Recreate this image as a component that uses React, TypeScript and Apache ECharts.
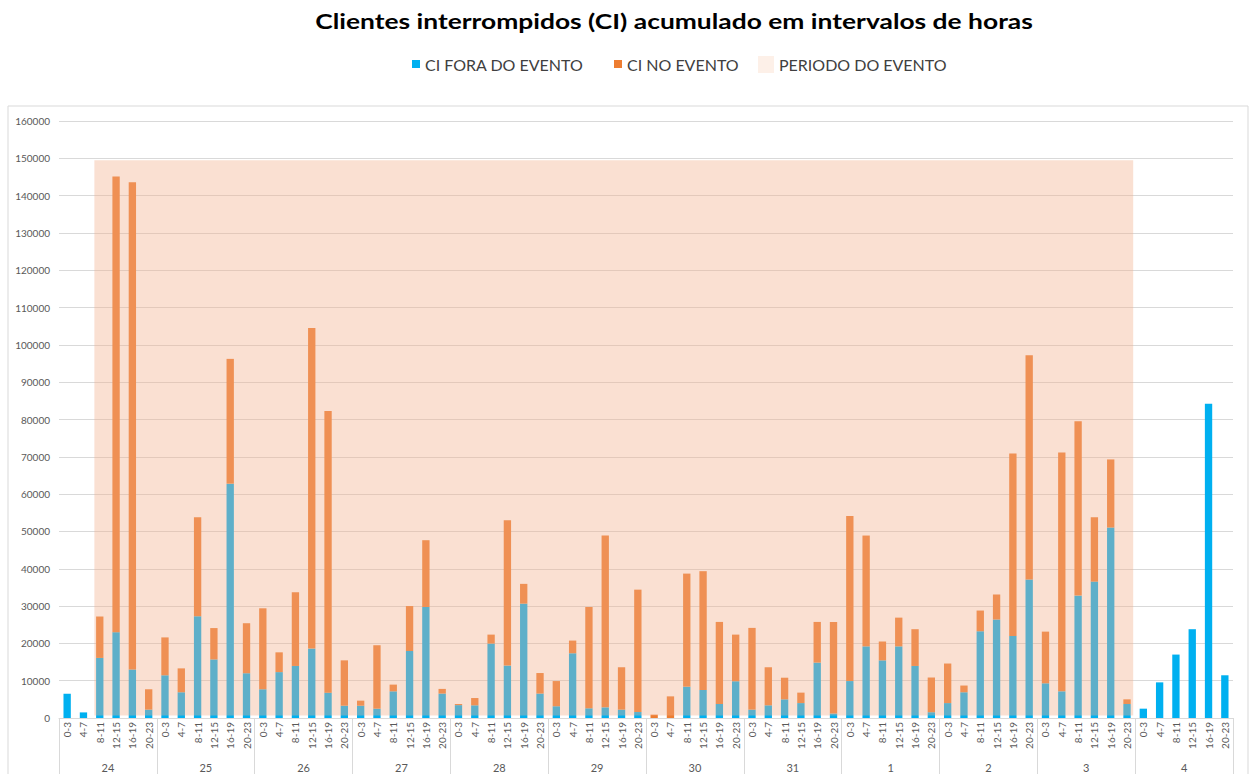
import React, { useEffect, useRef } from 'react';
import * as echarts from 'echarts';

const days = ['24', '25', '26', '27', '28', '29', '30', '31', '1', '2', '3', '4'];
const hours = ['0-3', '4-7', '8-11', '12-15', '16-19', '20-23'];

// CI FORA DO EVENTO (blue), per day x hour interval
const blueValues = [
  6500, 1500, 16100, 23000, 13000, 2250,
  11450, 6900, 27300, 15700, 62800, 12000,
  7700, 12300, 13950, 18600, 6800, 3300,
  3300, 2500, 7150, 17950, 29750, 6550,
  3450, 3400, 19950, 14050, 30650, 6550,
  3150, 17350, 2600, 2850, 2250, 1600,
  0, 0, 8400, 7500, 3750, 9850,
  2250, 3400, 5000, 4000, 14850, 1200,
  9900, 19200, 15450, 19200, 13950, 1550,
  4000, 6900, 23250, 26400, 22000, 37100,
  9300, 7150, 32800, 36550, 51050, 3750,
  2500, 9550, 17000, 23800, 84200, 11450,
];

// CI NO EVENTO (orange), stacked on top of blue
const orangeValues = [
  null, null, 11100, 122100, 130600, 5450,
  10150, 6400, 26500, 8400, 33450, 13400,
  21700, 5300, 19750, 85950, 75500, 12150,
  1350, 17000, 1800, 12050, 17900, 1250,
  300, 1950, 2400, 38950, 5300, 5500,
  6750, 3400, 27150, 46050, 11350, 32800,
  900, 5800, 30300, 31850, 22000, 12500,
  21900, 10200, 5800, 2800, 10900, 24550,
  44250, 29700, 5050, 7700, 9850, 9300,
  10600, 1800, 5550, 6700, 48900, 60150,
  13850, 64000, 46750, 17250, 18250, 1250,
  null, null, null, null, null, null,
];

const eventStart = '24|8-11';
const eventEnd = '3|20-23';
const eventBase = 700;
const eventTop = 149500;

const TITLE = 'Clientes interrompidos (CI) acumulado em intervalos de horas';
const FONT = 'Lato, sans-serif';
const legendText = { fontSize: 16, color: '#404040', fontFamily: FONT };

export default function App() {
  const ref = useRef<HTMLDivElement>(null);

  useEffect(() => {
    const chart = echarts.init(ref.current!, null, { renderer: 'svg' });
    const categories = days.flatMap((d) => hours.map((h) => `${d}|${h}`));
    const startIdx = categories.indexOf(eventStart);
    const endIdx = categories.indexOf(eventEnd);

    chart.setOption({
      animation: false,
      backgroundColor: '#ffffff',
      legend: [
        {
          top: 56, left: 412, padding: 0, itemWidth: 8, itemHeight: 8, icon: 'rect',
          textStyle: legendText, data: ['CI FORA DO EVENTO'],
        },
        {
          top: 56, left: 614, padding: 0, itemWidth: 8, itemHeight: 8, icon: 'rect',
          textStyle: legendText, data: ['CI NO EVENTO'],
        },
        {
          top: 56, left: 758, padding: 0, itemWidth: 16, itemHeight: 17, icon: 'rect',
          textStyle: legendText,
          data: [{ name: 'PERIODO DO EVENTO', itemStyle: { color: '#fdf0e8' } }],
        },
      ],
      graphic: [
        {
          type: 'rect',
          shape: { x: 8, y: 106, width: 1240, height: 700 },
          style: { fill: 'none', stroke: '#d9d9d9', lineWidth: 1 },
          silent: true,
          z: -10,
        },
        {
          type: 'text',
          x: 674,
          y: 21,
          scaleX: 1.257,
          style: {
            text: TITLE,
            fontSize: 21,
            fontWeight: 'bold',
            fontFamily: FONT,
            fill: '#000000',
            align: 'center',
            verticalAlign: 'middle',
          },
        },
      ],
      grid: { left: 59, right: 22, top: 121, bottom: 56, containLabel: false },
      xAxis: [
        {
          type: 'category',
          data: categories,
          axisLine: { lineStyle: { color: '#d9d9d9' } },
          axisTick: { show: false },
          axisLabel: {
            interval: 0,
            rotate: 90,
            margin: 4,
            fontSize: 10,
            color: '#595959',
            fontFamily: FONT,
            formatter: (v: string) => v.split('|')[1],
          },
        },
        {
          type: 'category',
          data: days,
          position: 'bottom',
          axisLine: { show: false },
          axisTick: { show: true, length: 60, lineStyle: { color: '#d9d9d9' } },
          axisLabel: { interval: 0, margin: 44, fontSize: 11, color: '#595959', fontFamily: FONT },
        },
      ],
      yAxis: {
        type: 'value',
        min: 0,
        max: 160000,
        interval: 10000,
        axisLine: { show: false },
        axisTick: { show: false },
        splitLine: { lineStyle: { color: '#d9d9d9' } },
        axisLabel: {
          fontSize: 10,
          color: '#595959',
          margin: 9,
          fontFamily: FONT,
          formatter: (v: number) => String(v),
        },
      },
      series: [
        {
          name: 'CI FORA DO EVENTO',
          type: 'bar',
          stack: 'ci',
          barWidth: '45%',
          itemStyle: { color: '#00b0f0' },
          data: blueValues,
          z: 2,
        },
        {
          name: 'CI NO EVENTO',
          type: 'bar',
          stack: 'ci',
          barWidth: '45%',
          itemStyle: { color: '#ed7d31' },
          data: orangeValues,
          z: 2,
        },
        {
          name: 'PERIODO DO EVENTO',
          type: 'custom',
          silent: true,
          z: 5,
          itemStyle: { color: 'rgba(243,176,140,0.39)' },
          encode: { x: [0, 1], y: [2, 3] },
          data: [[startIdx, endIdx, eventBase, eventTop]],
          renderItem: (params: any, api: any) => {
            const band = api.size([1, 0])[0];
            const pTop = api.coord([api.value(0), api.value(3)]);
            const pBase = api.coord([api.value(1), api.value(2)]);
            const x0 = pTop[0] - band * 0.33;
            const x1 = pBase[0] + band * 0.38;
            return {
              type: 'rect',
              shape: { x: x0, y: pTop[1], width: x1 - x0, height: pBase[1] - pTop[1] },
              style: { fill: 'rgba(243,176,140,0.39)' },
            };
          },
        },
      ],
    });

    return () => chart.dispose();
  }, []);

  return <div ref={ref} style={{ position: 'fixed', left: 0, top: 0, width: 1255, height: 774 }} />;
}
